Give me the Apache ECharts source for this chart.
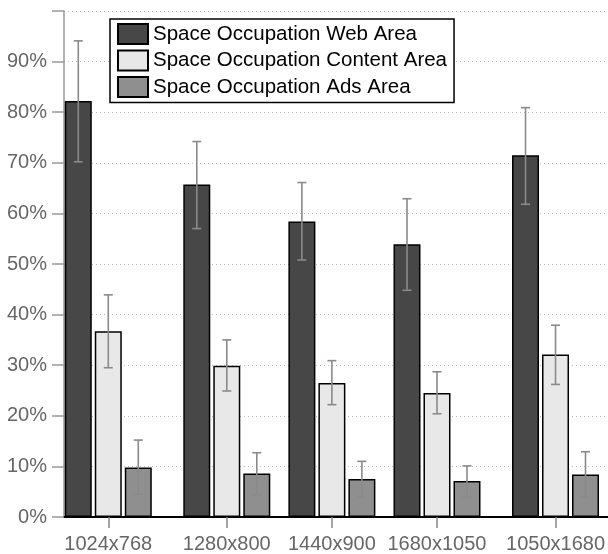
<!DOCTYPE html>
<html>
<head>
<meta charset="utf-8">
<script src="https://cdn.jsdelivr.net/npm/echarts@6/dist/echarts.min.js"></script>
<style>html,body{margin:0;padding:0;background:#fff}#c{width:608px;height:554px}</style>
</head>
<body>
<div id="c"></div>
<script>
var categories = ['1024x768', '1280x800', '1440x900', '1680x1050', '1050x1680'];
var groupPos = [1, 2.06, 3, 3.94, 5];
var seriesNames = ['Space Occupation Web Area', 'Space Occupation Content Area', 'Space Occupation Ads Area'];
var webArea = [82.2, 65.7, 58.4, 53.9, 71.5];
var webLow = [70.2, 57.0, 50.8, 44.8, 61.8];
var webHigh = [94.1, 74.2, 66.1, 62.9, 80.9];
var contentArea = [36.7, 29.9, 26.5, 24.5, 32.1];
var contentLow = [29.5, 24.9, 22.2, 20.4, 26.2];
var contentHigh = [43.9, 35.0, 30.9, 28.7, 37.9];
var adsArea = [9.8, 8.6, 7.5, 7.1, 8.4];
var adsLow = [4.5, 4.4, 3.9, 3.9, 3.9];
var adsHigh = [15.2, 12.7, 11.0, 10.1, 12.9];
var yTicks = [0, 10, 20, 30, 40, 50, 60, 70, 80, 90, 100];

var colors = ['#474747', '#e8e8e8', '#8f8f8f'];
var BAR_W = 27, BAR_GAP = 3;
var FONT = '"Liberation Sans", Arial, sans-serif';

var values = [webArea, contentArea, adsArea];
var lows = [webLow, contentLow, adsLow];
var highs = [webHigh, contentHigh, adsHigh];

var series = [];
values.forEach(function (vals, s) {
  series.push({
    name: seriesNames[s],
    type: 'bar',
    barWidth: BAR_W,
    barGap: (BAR_GAP / BAR_W * 100) + '%',
    itemStyle: { color: colors[s], borderColor: '#000', borderWidth: 1.5 },
    data: groupPos.map(function (x, i) { return [x, vals[i]]; }),
    z: 2
  });
});
values.forEach(function (vals, s) {
  series.push({
    type: 'custom',
    z: 5,
    silent: true,
    data: groupPos.map(function (x, i) { return [x, lows[s][i], highs[s][i]]; }),
    renderItem: (function (si) {
      return function (params, api) {
        var lo = api.coord([api.value(0), api.value(1)]);
        var hi = api.coord([api.value(0), api.value(2)]);
        var off = (si - 1) * (BAR_W + BAR_GAP);
        var x = lo[0] + off;
        var hw = 4.5;
        var st = { stroke: '#8a8a8a', lineWidth: 1.6 };
        return {
          type: 'group',
          children: [
            { type: 'line', shape: { x1: x, y1: lo[1], x2: x, y2: hi[1] }, style: st },
            { type: 'line', shape: { x1: x - hw, y1: lo[1], x2: x + hw, y2: lo[1] }, style: st },
            { type: 'line', shape: { x1: x - hw, y1: hi[1], x2: x + hw, y2: hi[1] }, style: st }
          ]
        };
      };
    })(s)
  });
});

var chart = echarts.init(document.getElementById('c'));
chart.setOption({
  animation: false,
  backgroundColor: '#fff',
  textStyle: { fontFamily: FONT },
  grid: { left: 64, right: 0, top: 11, bottom: 37, containLabel: false },
  legend: {
    data: seriesNames,
    orient: 'vertical',
    left: 110,
    top: 19,
    itemWidth: 30,
    itemHeight: 20,
    itemGap: 4.5,
    icon: 'rect',
    padding: [4, 7, 4.5, 7],
    backgroundColor: '#fff',
    borderColor: '#000',
    borderWidth: 1.5,
    borderRadius: 0,
    selectedMode: false,
    textStyle: { fontFamily: FONT, fontSize: 20.5, lineHeight: 20, color: '#000' }
  },
  xAxis: {
    type: 'value',
    min: 0.604,
    max: 5.465,
    splitLine: { show: false },
    axisLine: { show: true, onZero: false, lineStyle: { color: '#000', width: 2 } },
    axisTick: { show: true, customValues: groupPos, length: 11, lineStyle: { color: '#888', width: 1.5 } },
    axisLabel: {
      customValues: groupPos,
      margin: 17,
      color: '#666',
      fontSize: 20,
      fontFamily: FONT,
      formatter: function (v) {
        for (var i = 0; i < groupPos.length; i++) {
          if (Math.abs(groupPos[i] - v) < 1e-6) return categories[i];
        }
        return '';
      }
    }
  },
  yAxis: {
    type: 'value',
    min: 0,
    max: 100,
    interval: 10,
    axisLine: { show: true, lineStyle: { color: '#999', width: 1.5 } },
    axisTick: { show: true, length: 12, lineStyle: { color: '#999', width: 1.5 } },
    axisLabel: {
      margin: 17,
      color: '#666',
      fontSize: 20,
      fontFamily: FONT,
      formatter: function (v) { return v >= yTicks[yTicks.length - 1] ? '' : v + '%'; }
    },
    splitLine: { show: true, lineStyle: { color: '#bbb', width: 1, type: [1, 3] } }
  },
  series: series
});
</script>
</body>
</html>
